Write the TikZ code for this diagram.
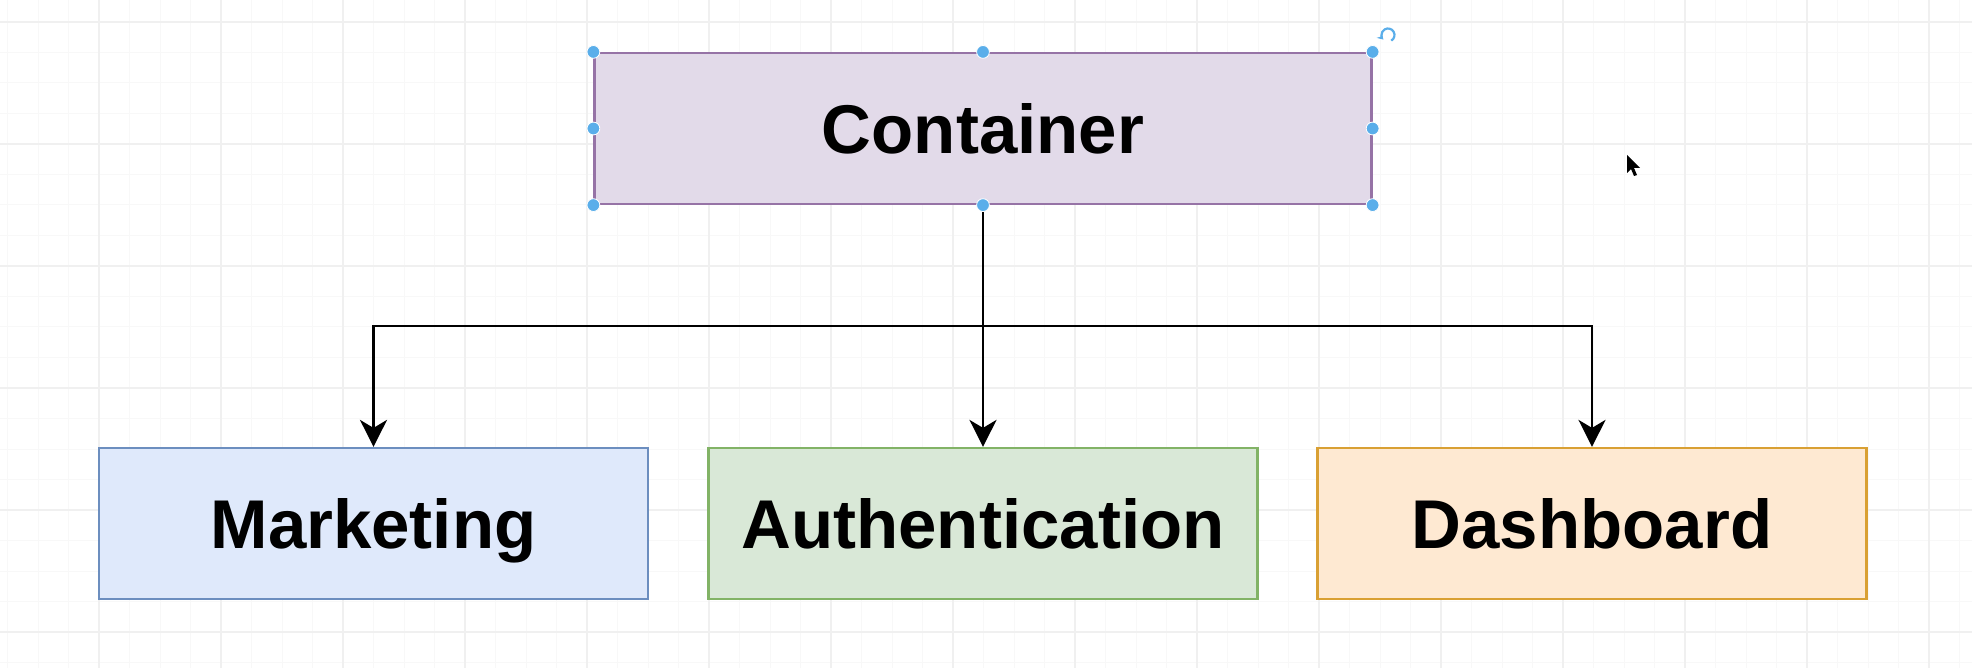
\documentclass[tikz,border=0pt]{standalone}
\usepackage{fontspec}
\setmainfont{Liberation Sans}
\usetikzlibrary{arrows.meta}
\definecolor{cfill}{HTML}{E2DAE9}
\definecolor{cdraw}{HTML}{9673A6}
\definecolor{mfill}{HTML}{DFE9FB}
\definecolor{mdraw}{HTML}{6C8EBF}
\definecolor{afill}{HTML}{D9E8D7}
\definecolor{adraw}{HTML}{82B366}
\definecolor{dfill}{HTML}{FEE9D2}
\definecolor{ddraw}{HTML}{D9A033}
\definecolor{handlecol}{HTML}{5AAEEA}
\definecolor{gridminor}{HTML}{F8F8F8}
\definecolor{gridmajor}{HTML}{F0F0F0}
\begin{document}
\begin{tikzpicture}[x=0.5pt,y=-0.5pt,
  box/.style={draw, line width=1.1pt, minimum height=75.5pt, inner sep=0pt,
    text height=24.7pt, text depth=0pt,
    font=\fontsize{34.5}{40}\selectfont\bfseries},
  topbox/.style={box, fill=cfill, draw=cdraw, minimum width=388.5pt},
  lowbox/.style={box, minimum width=274.5pt},
  conn/.style={line width=1.3pt, -{Stealth[length=13.5pt,width=13.5pt,inset=4pt]}},
  minorgrid/.style={gridminor, line width=0.5pt},
  majorgrid/.style={gridmajor, line width=0.6pt},
  handle/.style={fill=handlecol, draw=white, line width=0.4pt}]
\useasboundingbox (0,0) rectangle (1972,668);
\fill[white] (0,0) rectangle (1972,668);
% grid
\foreach \i in {0,...,64} \draw[minorgrid] ({7.5+\i*30.5},0) -- ++(0,668);
\foreach \i in {0,...,21} \draw[minorgrid] (0,{22+\i*30.5}) -- ++(1972,0);
\foreach \i in {0,...,15} \draw[majorgrid] ({99+\i*122},0) -- ++(0,668);
\foreach \i in {0,...,5} \draw[majorgrid] (0,{22+\i*122}) -- ++(1972,0);
% nodes
\node[topbox] (C) at (983,128.5) {Container};
\node[lowbox, fill=mfill, draw=mdraw] (M) at (373.5,523.5) {Marketing};
\node[lowbox, fill=afill, draw=adraw] (A) at (983,523.5) {Authentication};
\node[lowbox, fill=dfill, draw=ddraw] (D) at (1592,523.5) {Dashboard};
\coordinate (bus) at (983,326);
% connectors
\draw[line width=1.3pt] (C.south) -- (bus);
\draw[conn] (bus) -| (M.north);
\draw[conn] (bus) -- (A.north);
\draw[conn] (bus) -| (D.north);
% selection handles
\foreach \a in {north west,north,north east,west,east,south west,south,south east}
  \fill[handle] (C.\a) circle (3.2pt);
% rotation icon
\draw[handlecol, line width=1.1pt, -{Stealth[length=3pt,width=3.5pt]}] (1388,35) ++(60:6.5) arc[start angle=60, end angle=-225, radius=6.5];
% mouse cursor
\fill[black] (1627,155) -- (1627,173) -- (1631,169) -- (1634,176) -- (1637,175) -- (1634,168) -- (1640,168) -- cycle;
\end{tikzpicture}
\end{document}
